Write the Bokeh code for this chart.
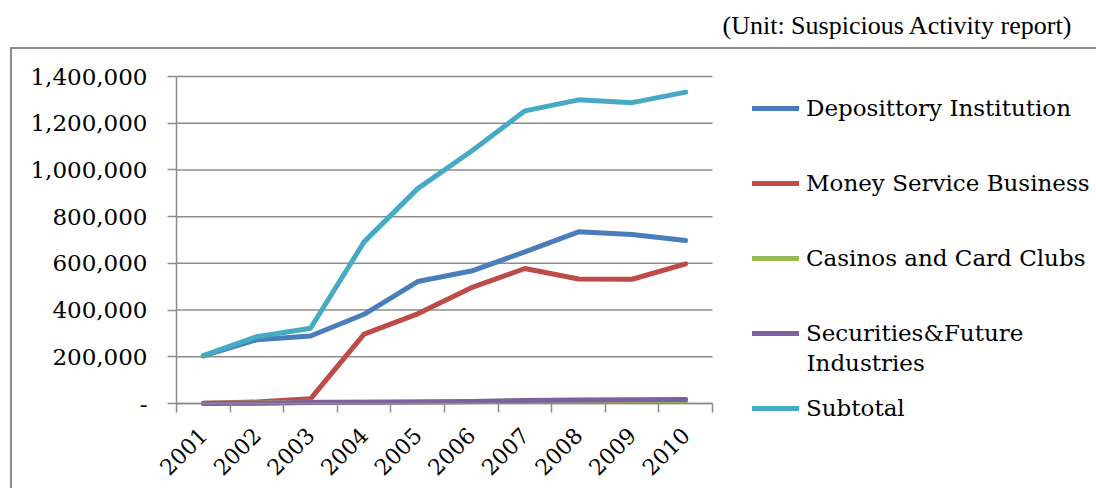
import math
from bokeh.plotting import figure
from bokeh.models import (Range1d, LinearAxis, FixedTicker, Label,
                          Legend, LegendItem, NumeralTickFormatter)
from bokeh.embed import file_html
from bokeh.resources import INLINE

years = ["2001", "2002", "2003", "2004", "2005", "2006", "2007", "2008", "2009", "2010"]
depository = [204000, 273000, 289000, 382000, 522000, 567000, 649000, 735000, 724000, 698000]
money_service = [1000, 6000, 20000, 297000, 384000, 496000, 578000, 533000, 532000, 598000]
casinos = [1400, 1900, 5100, 5800, 6100, 7300, 11200, 9900, 10300, 10500]
securities = [0, 1000, 4300, 5700, 6900, 8100, 12900, 15000, 16000, 17000]
subtotal = [205000, 286000, 322000, 692000, 920000, 1080000, 1253000, 1300000, 1288000, 1333000]
y_ticks = [0, 200000, 400000, 600000, 800000, 1000000, 1200000, 1400000]

series = [
    ("Deposittory Institution", depository, "#4a7ebb"),
    ("Money Service Business", money_service, "#be4b48"),
    ("Casinos and Card Clubs", casinos, "#98b954"),
    ("Securities&Future", securities, "#7d60a0"),
    ("Subtotal", subtotal, "#46aac5"),
]

# category slots: each year sits in the middle of its slot
xpos = [i + 0.5 for i in range(len(years))]
bounds = list(range(len(years) + 1))

W, H = 1096, 488
PLOT_L, PLOT_R, PLOT_T, PLOT_B = 176, 712, 76, 403   # pixel box of the chart area
px_x = (PLOT_R - PLOT_L) / len(years)
px_y = (PLOT_B - PLOT_T) / y_ticks[-1]

SERIF = "DejaVu Serif"
GRID = "#8c8c8c"

# the frame covers the whole canvas; axes are pinned at data 0 so that
# legend and notes (outside the chart area) are not clipped
p = figure(width=W, height=H,
           x_range=Range1d(-PLOT_L / px_x, (W - PLOT_L) / px_x),
           y_range=Range1d(-(H - PLOT_B) / px_y, y_ticks[-1] + PLOT_T / px_y),
           output_backend="svg", toolbar_location=None,
           x_axis_location=None, y_axis_location=None,
           title_location=None,
           min_border_left=0, min_border_right=0,
           min_border_top=0, min_border_bottom=0,
           outline_line_color=None, border_fill_color="white",
           background_fill_color="white")
p.grid.grid_line_color = None

p.stylesheets = [""":host::after { content: ""; position: absolute; left: 10px; top: 47px;
  right: 0px; bottom: 0px; border-left: 2px solid #8c8c8c; border-top: 2px solid #8c8c8c;
  pointer-events: none; }"""]

# horizontal gridlines at the y ticks, across the category slots
p.segment(x0=bounds[0], x1=bounds[-1], y0=y_ticks, y1=y_ticks,
          line_color=GRID, line_width=1.5)

yaxis = LinearAxis(ticker=FixedTicker(ticks=y_ticks),
                   formatter=NumeralTickFormatter(format="0,0"),
                   major_label_overrides={0: "-"},
                   fixed_location=0, bounds=(y_ticks[0], y_ticks[-1]),
                   axis_line_color=GRID, axis_line_width=1.5,
                   major_tick_line_color=GRID, major_tick_line_width=1.5,
                   major_tick_in=0, major_tick_out=9,
                   minor_tick_line_color=None,
                   major_label_standoff=20,
                   major_label_text_font=SERIF,
                   major_label_text_font_size="23px",
                   major_label_text_color="black")
p.add_layout(yaxis, "left")

xaxis = LinearAxis(ticker=FixedTicker(ticks=xpos, minor_ticks=bounds),
                   major_label_overrides={x: y for x, y in zip(xpos, years)},
                   fixed_location=0, bounds=(bounds[0], bounds[-1]),
                   axis_line_color=GRID, axis_line_width=1.5,
                   major_tick_line_color=None, major_tick_in=0, major_tick_out=0,
                   minor_tick_line_color=GRID, minor_tick_line_width=1.5,
                   minor_tick_in=0, minor_tick_out=9,
                   major_label_orientation=math.pi / 4,
                   major_label_standoff=19,
                   major_label_text_font=SERIF,
                   major_label_text_font_size="22px",
                   major_label_text_color="black")
p.add_layout(xaxis, "below")

renderers = []
for name, vals, color in series:
    r = p.line(xpos, vals, line_color=color, line_width=5,
               line_cap="round", line_join="round")
    renderers.append((name, r))

legend = Legend(items=[LegendItem(label=n, renderers=[r]) for n, r in renderers],
                location=(752, 66.5), orientation="vertical",
                glyph_width=47, glyph_height=28, label_height=28, label_standoff=7,
                spacing=47, padding=0, margin=0,
                border_line_color=None, background_fill_alpha=0,
                label_text_font=SERIF, label_text_font_size="23px",
                label_text_color="black")
p.add_layout(legend, "center")

# second line of the "Securities&Future Industries" legend entry
p.add_layout(Label(x=806, y=H - 362, x_units="screen", y_units="screen",
                   text="Industries", text_baseline="alphabetic",
                   text_font=SERIF, text_font_size="23px", text_color="black"))

p.add_layout(Label(x=722, y=H - 25, x_units="screen", y_units="screen",
                   text="(Unit: Suspicious Activity report)", text_baseline="alphabetic",
                   text_font="Liberation Serif", text_font_size="26px", text_color="black"))

open("out.html", "w").write(file_html(p, INLINE))
